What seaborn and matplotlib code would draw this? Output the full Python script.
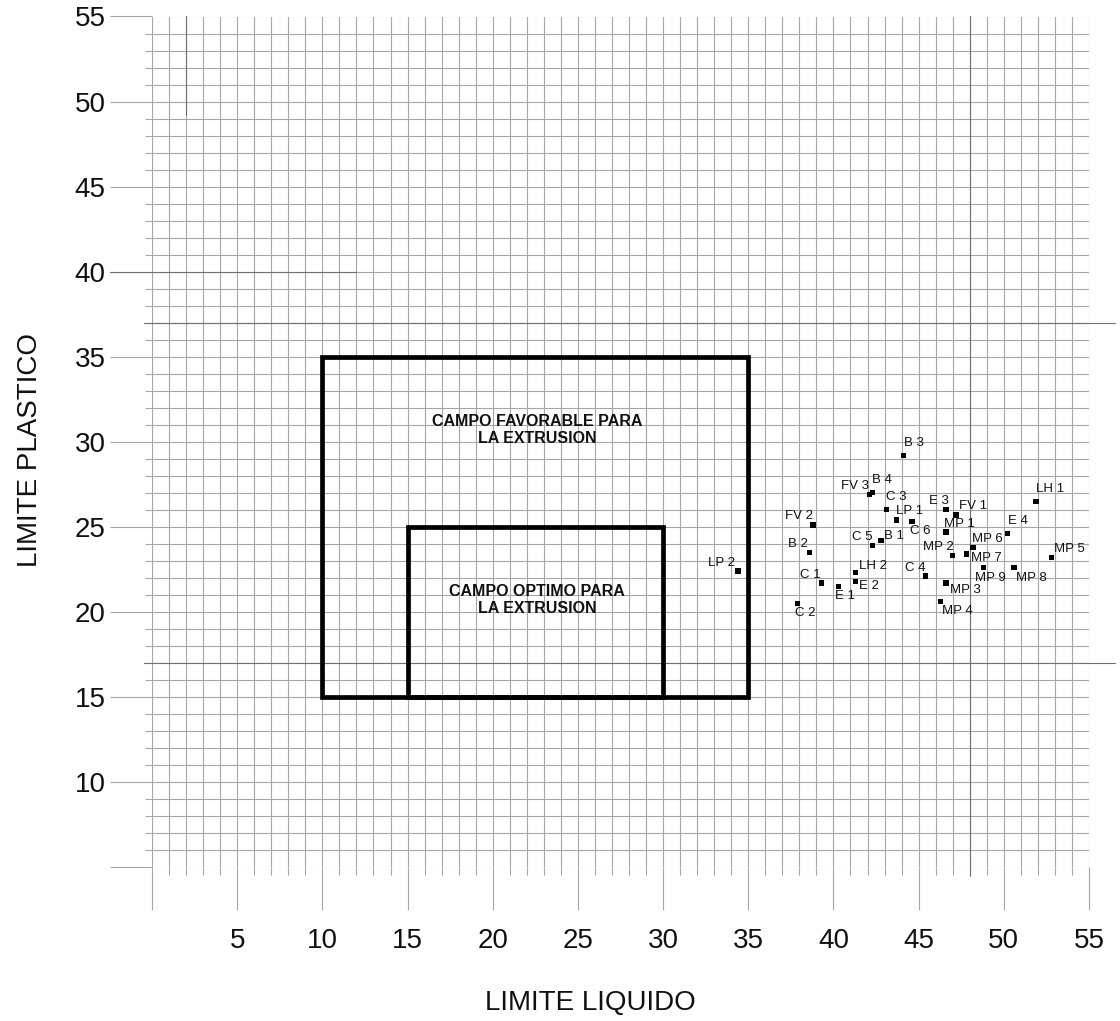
import matplotlib
matplotlib.use("Agg")
import matplotlib.pyplot as plt
import seaborn as sns
import pandas as pd
from matplotlib.patches import Rectangle

# ---------------- data ----------------
sample_labels = ["B 3", "B 4", "FV 3", "C 3", "E 3", "FV 1", "LP 1", "C 6", "FV 2", "MP 1",
                 "E 4", "B 1", "C 5", "MP 6", "B 2", "MP 7", "MP 2", "MP 5", "MP 9", "MP 8",
                 "LH 2", "C 4", "C 1", "MP 3", "E 2", "E 1", "LH 1", "MP 4", "C 2", "LP 2"]
limite_liquido = [44.1, 42.3, 42.1, 43.1, 46.6, 47.2, 43.7, 44.6, 38.8, 46.6,
                  50.2, 42.8, 42.3, 48.2, 38.6, 47.8, 47.0, 52.8, 48.8, 50.6,
                  41.3, 45.4, 39.3, 46.6, 41.3, 40.3, 51.9, 46.3, 37.9, 34.4]
limite_plastico = [29.2, 27.0, 26.9, 26.0, 26.0, 25.7, 25.4, 25.3, 25.1, 24.7,
                   24.6, 24.2, 23.9, 23.8, 23.5, 23.4, 23.3, 23.2, 22.6, 22.6,
                   22.3, 22.1, 21.7, 21.7, 21.8, 21.5, 26.5, 20.6, 20.5, 22.4]

zone_names = ["CAMPO FAVORABLE PARA\nLA EXTRUSION", "CAMPO OPTIMO PARA\nLA EXTRUSION"]
zone_ll_min = [10, 15]
zone_ll_max = [35, 30]
zone_lp_min = [15, 15]
zone_lp_max = [35, 25]

x_ticks = [0, 5, 10, 15, 20, 25, 30, 35, 40, 45, 50, 55]
x_tick_labels = ["", "5", "10", "15", "20", "25", "30", "35", "40", "45", "50", "55"]
y_ticks = [5, 10, 15, 20, 25, 30, 35, 40, 45, 50, 55]
y_tick_labels = ["", "10", "15", "20", "25", "30", "35", "40", "45", "50", "55"]

# label offsets (pixels) for each sample label
label_offsets = [(10.7, 12.3), (9.7, 12.3), (-14.3, 8.3), (10.3, 12.7), (-6.7, 8.7),
                 (16.7, 9.3), (13, 8.7), (8.7, -9), (-14, 8.7), (14, 7.7),
                 (10.7, 12.7), (12.7, 4.7), (-10, 8.7), (14.3, 8.3), (-12, 8.3),
                 (20, -4.3), (-14.7, 9), (18, 8), (7, -10), (17, -10),
                 (17.3, 6.7), (-10.3, 8), (-11, 7.7), (19, -7.3), (13, -4.7),
                 (6.7, -10), (14.3, 12.7), (16.7, -9.3), (8, -9.7), (-16.7, 8.3)]

df = pd.DataFrame({"LL": limite_liquido, "LP": limite_plastico, "label": sample_labels})

# ---------------- style ----------------
sns.set_style("white")
plt.rcParams["font.family"] = ["Liberation Sans", "DejaVu Sans"]

grid_color = "#a6a6a6"
fig = plt.figure(figsize=(11.2, 10.21), dpi=100)
ax = fig.add_axes([152 / 1120, 154 / 1021, 937 / 1120, 850.5 / 1021])
ax.set_xlim(0, 55)
ax.set_ylim(5, 55)

for s in ax.spines.values():
    s.set_visible(False)

ax.set_xticks(x_ticks)
ax.set_xticklabels(x_tick_labels)
ax.set_yticks(y_ticks)
ax.set_yticklabels(y_tick_labels)
ax.set_xticks(range(0, 56), minor=True)
ax.set_yticks(range(5, 56), minor=True)

ax.tick_params(bottom=True, left=True, top=False, right=False, which="both")
ax.tick_params(axis="x", which="major", length=31, width=0.8, color=grid_color,
               direction="out", pad=13, labelsize=20, labelcolor="#111111")
ax.tick_params(axis="x", which="minor", length=5.8, width=0.8, color=grid_color, direction="out")
ax.tick_params(axis="y", which="major", length=30, width=0.8, color=grid_color,
               direction="out", pad=3.5, labelsize=20, labelcolor="#111111")
ax.tick_params(axis="y", which="minor", length=5, width=0.8, color=grid_color, direction="out")

ax.grid(True, which="both", color=grid_color, linewidth=0.8)
ax.set_axisbelow(True)

# darker artefact lines of the original paper
art = "#707070"
ax.plot([-0.45, 56.5], [37, 37], color=art, lw=0.8, clip_on=False, zorder=1)
ax.plot([-0.45, 56.5], [17, 17], color=art, lw=0.8, clip_on=False, zorder=1)
ax.plot([48, 48], [55, 4.5], color=art, lw=0.8, clip_on=False, zorder=1)
ax.plot([2, 2], [55, 49.2], color=art, lw=0.8, clip_on=False, zorder=1)
ax.plot([-2.45, 12], [40, 40], color=art, lw=0.8, clip_on=False, zorder=1)

# zone rectangles
for name, x0, x1, y0, y1 in zip(zone_names, zone_ll_min, zone_ll_max, zone_lp_min, zone_lp_max):
    ax.add_patch(Rectangle((x0, y0), x1 - x0, y1 - y0, fill=False, edgecolor="black",
                           linewidth=3.4, joinstyle="miter", zorder=3))
ax.text(22.6, 30.68, zone_names[0], ha="center", va="center", fontsize=11.5,
        fontweight="bold", color="#111111", linespacing=1.15, zorder=4)
ax.text(22.6, 20.68, zone_names[1], ha="center", va="center", fontsize=11.5,
        fontweight="bold", color="#111111", linespacing=1.15, zorder=4)

# points
sns.scatterplot(data=df, x="LL", y="LP", marker="s", s=15, color="black",
                edgecolor="none", ax=ax, zorder=5, legend=False)
for (lab, x, y), (dx, dy) in zip(zip(sample_labels, limite_liquido, limite_plastico), label_offsets):
    ax.annotate(lab, (x, y), xytext=(dx, dy), textcoords="offset pixels",
                ha="center", va="center", fontsize=9.5, color="#111111", zorder=6)

ax.set_xlabel("")
ax.set_ylabel("")
fig.text(590 / 1120, 1 - 1003 / 1021, "LIMITE LIQUIDO", ha="center", va="center",
         fontsize=20, color="#111111")
fig.text(30 / 1120, 1 - 450 / 1021, "LIMITE PLASTICO", ha="center", va="center",
         fontsize=20, rotation=90, color="#111111")

fig.savefig("out.png", dpi=100)
